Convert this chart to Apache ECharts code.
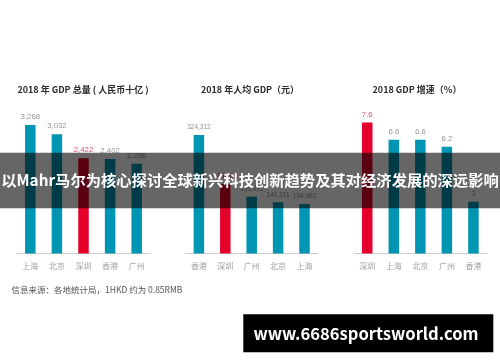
<!DOCTYPE html>
<html>
<head>
<meta charset="utf-8">
<script src="https://cdn.jsdelivr.net/npm/echarts@6/dist/echarts.min.js"></script>
<style>
html,body{margin:0;padding:0;background:#ffffff;}
#chart{width:500px;height:362px;}
</style>
</head>
<body>
<div id="chart"></div>
<script>
// ---- data ----
const totalCategories = ['上海', '北京', '深圳', '香港', '广州'];
const totalValues = [3268, 3032, 2422, 2402, 2286];
const perCapitaCategories = ['香港', '深圳', '广州', '北京', '上海'];
const perCapitaValues = [324312, 189568, 155491, 140211, 134982];
const growthCategories = ['深圳', '上海', '北京', '广州', '香港'];
const growthValues = [7.6, 6.6, 6.6, 6.2, 3];
const highlightCity = '深圳';
const panelTitles = ['2018 年 GDP 总量 ( 人民币十亿 )', '2018 年人均 GDP（元）', '2018 GDP 增速（%）'];
const sourceNote = '信息来源：各地统计局，1HKD 约为 0.85RMB';
const bannerText = '以Mahr马尔为核心探讨全球新兴科技创新趋势及其对经济发展的深远影响';
const urlText = 'www.6686sportsworld.com';

const TEAL = '#0096b3';
const RED = '#e4002b';
const FONT = '"Noto Sans CJK SC", "Noto Sans", sans-serif';
const NUMFONT = '"Liberation Sans", Arial, sans-serif';

function fmt(v) {
  return Number.isInteger(v) ? v.toLocaleString('en-US') : String(v);
}
function buildData(cats, vals) {
  return vals.map((v, i) => {
    const hi = cats[i] === highlightCity;
    return {
      value: v,
      itemStyle: { color: hi ? RED : TEAL },
      label: { color: hi ? '#e0506c' : '#959595' }
    };
  });
}

const grids = [
  { left: 17, width: 133, top: 115.9, bottom: 108.5 },
  { left: 185.7, width: 132, top: 125.5, bottom: 108.5 },
  { left: 354, width: 132.7, top: 115.6, bottom: 108.5 }
];
const catSets = [totalCategories, perCapitaCategories, growthCategories];
const valSets = [totalValues, perCapitaValues, growthValues];
const maxes = [3500, 350000, 8];
const labelSizes = [7.8, 6.5, 7.8];

const xAxes = catSets.map((c, i) => ({
  type: 'category', gridIndex: i, data: c,
  axisLine: { lineStyle: { color: '#cccccc', width: 1 } },
  axisTick: { show: false },
  axisLabel: { color: '#a0a0a0', fontSize: 8, margin: 8, fontFamily: FONT }
}));
const yAxes = maxes.map((m, i) => ({
  type: 'value', gridIndex: i, min: 0, max: m, show: false
}));
const series = valSets.map((v, i) => ({
  type: 'bar', xAxisIndex: i, yAxisIndex: i,
  data: buildData(catSets[i], v),
  barWidth: 10.5,
  label: { show: true, position: 'top', distance: 4, fontSize: labelSizes[i], fontFamily: NUMFONT,
    formatter: p => fmt(p.value) }
}));

const titleX = [83, 250, 417];
const graphics = [];
panelTitles.forEach((t, i) => {
  graphics.push({ type: 'text', x: titleX[i], y: 89.5, z: 10,
    style: { text: t, fill: '#2a2a2a', font: 'bold 9px ' + FONT, textAlign: 'center', textVerticalAlign: 'middle' } });
});
graphics.push({ type: 'text', x: 11.5, y: 290, z: 10,
  style: { text: sourceNote, fill: '#555555', font: '8.5px ' + FONT, textAlign: 'left', textVerticalAlign: 'middle' } });
graphics.push({ type: 'rect', shape: { x: 0, y: 152.7, width: 500, height: 55.6 }, z: 100,
  style: { fill: 'rgba(0,0,0,0.6)' } });
graphics.push({ type: 'text', x: 250, y: 180.5, z: 101,
  style: { text: bannerText, fill: '#ffffff', font: 'bold 15.3px ' + FONT, textAlign: 'center', textVerticalAlign: 'middle' } });
graphics.push({ type: 'rect', shape: { x: 243.3, y: 314.3, width: 250, height: 38 }, z: 100,
  style: { fill: '#000000' } });
graphics.push({ type: 'text', x: 366, y: 333.5, z: 101,
  style: { text: urlText, fill: '#ffffff', font: 'bold 16.6px ' + FONT, textAlign: 'center', textVerticalAlign: 'middle' } });

const chart = echarts.init(document.getElementById('chart'), null, { renderer: 'canvas' });
chart.setOption({
  backgroundColor: '#ffffff',
  animation: false,
  grid: grids,
  xAxis: xAxes,
  yAxis: yAxes,
  series: series,
  graphic: graphics
});
</script>
</body>
</html>
